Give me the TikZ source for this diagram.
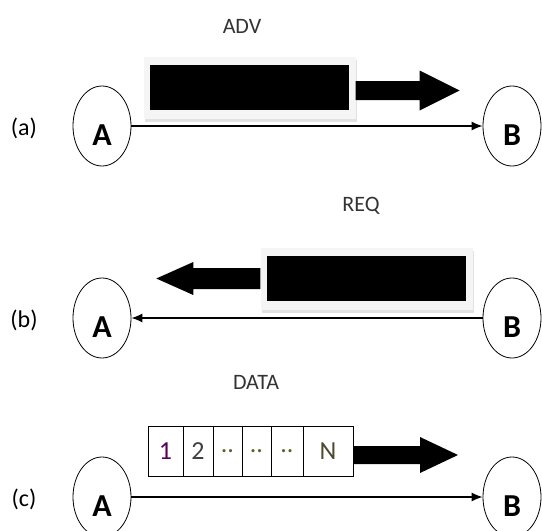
\documentclass[tikz,border=0pt]{standalone}
\usepackage{fontspec}
\setmainfont{Carlito}
\usetikzlibrary{positioning}
\usetikzlibrary{shapes.geometric}
\usetikzlibrary{arrows.meta}
\usetikzlibrary{shadows}

\tikzset{
	endpt/.style={ellipse, draw, line width=0.8pt, minimum width=58pt, minimum height=80pt, inner sep=0pt},
	endname/.style={label={[font=\bfseries\fontsize{32}{32}\selectfont, yshift=-9pt]center:#1}},
	caselbl/.style={font=\fontsize{24}{24}\selectfont},
	msgname/.style={font=\fontsize{22}{22}\selectfont, text=black!80},
	msgframe/.style={fill=gray!8, minimum width=212pt, minimum height=62pt, inner sep=0pt, drop shadow={shadow xshift=1pt, shadow yshift=-3pt, fill=gray!45}},
	msgbox/.style={fill=black, minimum width=199pt, minimum height=45pt, inner sep=0pt},
	cell/.style={draw, line width=1pt, minimum height=50pt, inner sep=0pt, outer sep=0pt, font=\fontsize{26}{26}\selectfont},
	conn/.style={line width=1.2pt, -{Latex[length=11pt,width=9pt]}},
}

\begin{document}
\begin{tikzpicture}[x=1pt, y=-1pt]
	\useasboundingbox (0,0) rectangle (542,531);

	% (a) advertisement
	\node[caselbl] (lbla) at (24,128) {(a)};
	\node[msgname] (advname) at (242,26) {ADV};
	\node[endpt, endname=A] (advA) at (102,126) {};
	\node[endpt, endname=B] (advB) at (512,126) {};
	\node[msgframe] (advframe) at (249.5,87.5) {};
	\node[msgbox] (advmsg) at (advframe.center) {};
	\fill ([yshift=-3pt]advframe.east) ++(0,-9.5) -- ++(64,0) -- ++(0,-10.5) -- ++(40,20) -- ++(-40,20) -- ++(0,-10.5) -- ++(-64,0) -- cycle;
	\draw[conn] (advA) -- (advB);

	% (b) request
	\node[caselbl] (lblb) at (24,320) {(b)};
	\node[msgname] (reqname) at (361,206) {REQ};
	\node[endpt, endname=A] (reqA) at (102,318) {};
	\node[endpt, endname=B] (reqB) at (512,318) {};
	\node[msgframe] (reqframe) at (366.5,278.5) {};
	\node[msgbox] (reqmsg) at (reqframe.center) {};
	\fill (reqframe.west) ++(0,-10.5) -- ++(-67,0) -- ++(0,-6) -- ++(-37,16.5) -- ++(37,16.5) -- ++(0,-6) -- ++(67,0) -- cycle;
	\draw[conn] (reqB) -- (reqA);

	% (c) data
	\node[caselbl] (lblc) at (24,499) {(c)};
	\node[msgname] (dataname) at (256,382) {DATA};
	\node[endpt, endname=A] (dataA) at (102,497) {};
	\node[endpt, endname=B] (dataB) at (512,497) {};
	\node[cell, minimum width=35pt, text=violet!70!black] (cell1) at (165.5,451) {1};
	\node[cell, minimum width=30pt, text=black!75, right=0pt of cell1] (cell2) {2};
	\node[cell, minimum width=29pt, text=olive!60!black, right=0pt of cell2] (cell3) {..};
	\node[cell, minimum width=29pt, text=olive!60!black, right=0pt of cell3] (cell4) {..};
	\node[cell, minimum width=32pt, text=olive!60!black, right=0pt of cell4] (cell5) {..};
	\node[cell, minimum width=50pt, text=olive!40!black, right=0pt of cell5] (cellN) {N};
	\fill ([yshift=-4pt]cellN.east) ++(0,-9) -- ++(67,0) -- ++(0,-9) -- ++(38,18) -- ++(-38,18) -- ++(0,-9) -- ++(-67,0) -- cycle;
	\draw[conn] (dataA) -- (dataB);
\end{tikzpicture}
\end{document}
